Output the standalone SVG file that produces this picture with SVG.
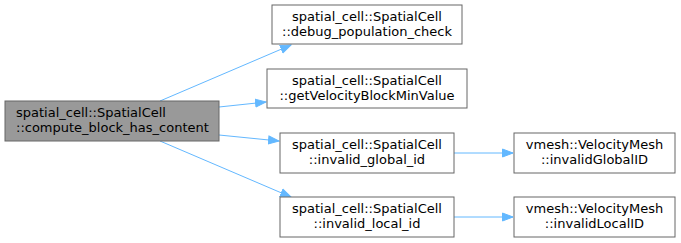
<svg xmlns="http://www.w3.org/2000/svg" width="681" height="243" viewBox="0 0 681 243">
<style>
.n{fill:#fff;stroke:#666;stroke-width:1}
.m{fill:#999;stroke:#666;stroke-width:1}
text{font-family:"DejaVu Sans",sans-serif;font-size:13px;fill:#000}
.c{text-anchor:middle}
.e{fill:none;stroke:#63b8ff;stroke-width:1}
.h{fill:#63b8ff;stroke:#63b8ff}
</style>
<defs>
<marker id="a" markerWidth="12" markerHeight="10" refX="11" refY="5" orient="auto" markerUnits="userSpaceOnUse">
<path class="h" d="M0.5,1 L11,5 L0.5,9 Z"/>
</marker>
</defs>
<rect width="681" height="243" fill="#fff"/>
<g id="connectors">
<path class="e" d="M160,101 L291,45" marker-end="url(#a)"/>
<path class="e" d="M219,107 L266,102" marker-end="url(#a)"/>
<path class="e" d="M219,135 L279,141" marker-end="url(#a)"/>
<path class="e" d="M160,141 L291,197" marker-end="url(#a)"/>
<path class="e" d="M454,153 L513,153" marker-end="url(#a)"/>
<path class="e" d="M454,217 L513,217" marker-end="url(#a)"/>
</g>
<g id="main">
<rect class="m" x="5" y="101" width="214" height="40"/>
<text x="16" y="117">spatial_cell::SpatialCell</text>
<text x="16" y="132">::compute_block_has_content</text>
</g>
<g id="debug">
<rect class="n" x="272" y="5" width="190" height="39"/>
<text class="c" x="367" y="21">spatial_cell::SpatialCell</text>
<text class="c" x="367" y="36">::debug_population_check</text>
</g>
<g id="getvel">
<rect class="n" x="267" y="69" width="200" height="39"/>
<text class="c" x="367" y="85">spatial_cell::SpatialCell</text>
<text class="c" x="367" y="100">::getVelocityBlockMinValue</text>
</g>
<g id="invglobal">
<rect class="n" x="280" y="133" width="174" height="40"/>
<text class="c" x="367" y="149">spatial_cell::SpatialCell</text>
<text class="c" x="367" y="164">::invalid_global_id</text>
</g>
<g id="invlocal">
<rect class="n" x="280" y="197" width="174" height="40"/>
<text class="c" x="367" y="213">spatial_cell::SpatialCell</text>
<text class="c" x="367" y="228">::invalid_local_id</text>
</g>
<g id="vmglobal">
<rect class="n" x="514" y="133" width="161" height="40"/>
<text class="c" x="594.5" y="149">vmesh::VelocityMesh</text>
<text class="c" x="594.5" y="164">::invalidGlobalID</text>
</g>
<g id="vmlocal">
<rect class="n" x="514" y="197" width="161" height="40"/>
<text class="c" x="594.5" y="213">vmesh::VelocityMesh</text>
<text class="c" x="594.5" y="228">::invalidLocalID</text>
</g>
</svg>
